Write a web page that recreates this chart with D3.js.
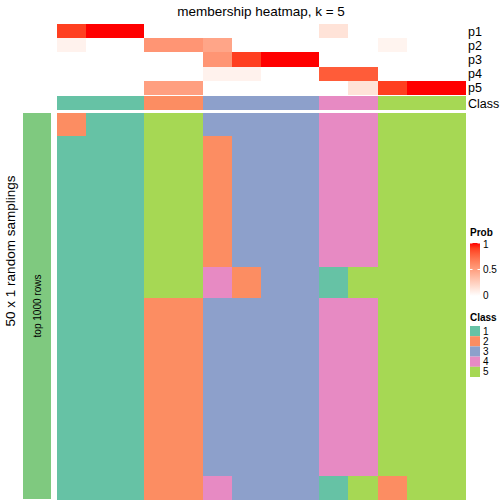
<!DOCTYPE html>
<html><head><meta charset="utf-8">
<script src="https://cdn.jsdelivr.net/npm/d3@7"></script>
<style>body{margin:0;background:#fff}svg{display:block;font-family:"Liberation Sans",Arial,Helvetica,sans-serif}</style>
</head><body>
<svg id="c" width="504" height="504"></svg>
<script>
// ---- data ----
const columns = d3.range(14);
const classOfColumn = [1,1,1,2,2,3,3,3,3,4,4,5,5,5];
const probRows = ["p1","p2","p3","p4","p5"];
const p1 = [0.9,1,1,0,0,0,0,0,0,0.15,0,0,0,0];
const p2 = [0.07,0,0,0.55,0.55,0.47,0,0,0,0,0,0.06,0,0];
const p3 = [0,0,0,0,0,0.55,0.9,1,1,0,0,0,0,0];
const p4 = [0,0,0,0,0,0.07,0.07,0,0,0.8,0.8,0,0,0];
const p5 = [0,0,0,0.5,0.5,0,0,0,0,0,0.15,0.9,1,1];
const probValues = [p1,p2,p3,p4,p5];
// sampling rows: distinct patterns and how many rows use each
const patternA = [2,1,1,5,5,3,3,3,3,4,4,5,5,5];
const patternB = [1,1,1,5,5,2,3,3,3,4,4,5,5,5];
const patternC = [1,1,1,5,5,4,2,3,3,1,5,5,5,5];
const patternD = [1,1,1,2,2,3,3,3,3,4,4,5,5,5];
const patternE = [1,1,1,2,2,4,3,3,3,1,5,2,5,5];
const rowPatterns = [patternA,patternB,patternC,patternD,patternE];
const rowCounts = [3,17,4,23,3];
const classLabels = [1,2,3,4,5];
const classColors = ["#66C2A5","#FC8D62","#8DA0CB","#E78AC3","#A6D854"];
const probTicks = [0,0.5,1];

// ---- build ----
const rows = [];
rowPatterns.forEach((p,i)=>{ for(let k=0;k<rowCounts[i];k++) rows.push(p); });

const svg = d3.select("#c");
const x = d3.scaleBand().domain(columns).range([57,465]);
const yAnn = d3.scaleBand().domain(probRows).range([24,95]);
const yBody = d3.scaleBand().domain(d3.range(rows.length)).range([113,499]);
const probColor = d3.scaleLinear().domain([0,1]).range(["#ffffff","#ff0000"]).interpolate(d3.interpolateLab);
const classColor = d3.scaleOrdinal().domain(classLabels).range(classColors);

// title
svg.append("text").attr("x",261).attr("y",16).attr("text-anchor","middle")
  .attr("font-size",13.5).text("membership heatmap, k = 5");

// prob annotation rows
const ann = svg.append("g").attr("shape-rendering","crispEdges");
probRows.forEach((r,ri)=>{
  ann.append("g").selectAll("rect").data(columns).join("rect")
    .attr("x",d=>x(d)).attr("width",x.bandwidth()+0.6)
    .attr("y",yAnn(r)).attr("height",yAnn.bandwidth()+0.4)
    .attr("fill",d=>probColor(probValues[ri][d]));
  svg.append("text").attr("x",468).attr("y",yAnn(r)+yAnn.bandwidth()/2+4.5)
    .attr("font-size",12.5).text(r);
});
// class annotation row
ann.append("g").selectAll("rect").data(columns).join("rect")
  .attr("x",d=>x(d)).attr("width",x.bandwidth()+0.6)
  .attr("y",96).attr("height",14)
  .attr("fill",d=>classColor(classOfColumn[d]));
svg.append("text").attr("x",468).attr("y",107.5).attr("font-size",12.5).text("Class");

// body
const g = svg.append("g").attr("shape-rendering","crispEdges");
rows.forEach((row,i)=>{
  g.append("g").selectAll("rect").data(columns).join("rect")
    .attr("x",d=>x(d)).attr("width",x.bandwidth()+0.6)
    .attr("y",yBody(i)).attr("height",yBody.bandwidth()+0.6)
    .attr("fill",d=>classColor(row[d]));
});

// left bar
svg.append("rect").attr("x",23).attr("y",113).attr("width",28).attr("height",386).attr("fill","#7FC97F");
svg.append("text").attr("transform","translate(41,306) rotate(-90)").attr("text-anchor","middle")
  .attr("font-size",10).text("top 1000 rows");
svg.append("text").attr("transform","translate(15,251) rotate(-90)").attr("text-anchor","middle")
  .attr("font-size",13.5).text("50 x 1 random samplings");

// Prob legend
svg.append("text").attr("x",470).attr("y",236).attr("font-size",10).attr("font-weight","bold").text("Prob");
const defs = svg.append("defs");
const lg = defs.append("linearGradient").attr("id","pg").attr("x1",0).attr("y1",1).attr("x2",0).attr("y2",0);
d3.range(0,1.0001,0.1).forEach(t=>lg.append("stop").attr("offset",t).attr("stop-color",probColor(t)));
const yLeg = d3.scaleLinear().domain([0,1]).range([296,243]);
svg.append("rect").attr("x",470).attr("y",yLeg(1)).attr("width",10).attr("height",yLeg(0)-yLeg(1)).attr("fill","url(#pg)");
probTicks.forEach(t=>{
  svg.append("line").attr("x1",470).attr("x2",472.5).attr("y1",yLeg(t)).attr("y2",yLeg(t)).attr("stroke","#fff").attr("stroke-width",1);
  svg.append("line").attr("x1",477.5).attr("x2",480).attr("y1",yLeg(t)).attr("y2",yLeg(t)).attr("stroke","#fff").attr("stroke-width",1);
  svg.append("text").attr("x",483).attr("y",yLeg(t)+(t===0?3:t===1?4.5:3.5)).attr("font-size",10).text(t);
});

// Class legend
svg.append("text").attr("x",470).attr("y",321).attr("font-size",10).attr("font-weight","bold").text("Class");
const yCls = d3.scaleBand().domain(classLabels).range([326,377]);
classLabels.forEach(c=>{
  svg.append("rect").attr("x",470).attr("y",yCls(c)).attr("width",10).attr("height",yCls.bandwidth())
    .attr("fill",classColor(c));
  svg.append("text").attr("x",483).attr("y",yCls(c)+yCls.bandwidth()/2+3.5).attr("font-size",10).text(c);
});
</script>
</body></html>
